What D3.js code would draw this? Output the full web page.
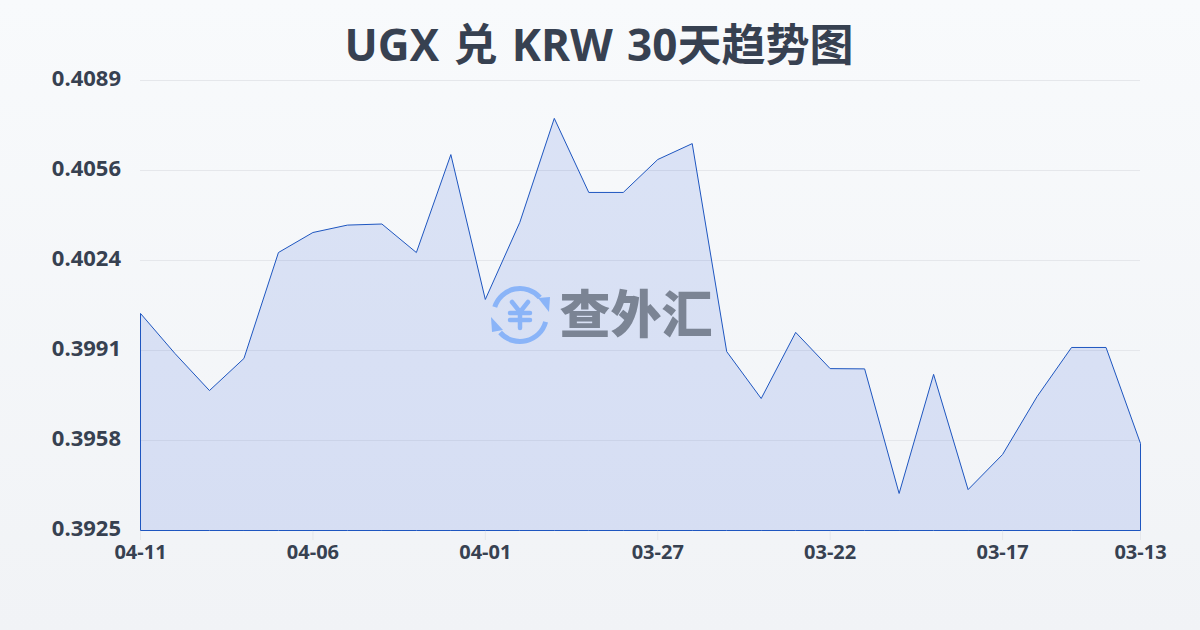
<!DOCTYPE html>
<html>
<head>
<meta charset="utf-8">
<script src="https://cdn.jsdelivr.net/npm/d3@7"></script>
<style>
  html, body { margin: 0; padding: 0; }
  svg { display: block; }
</style>
</head>
<body>
<script>
const dates = ["04-11","04-10","04-09","04-08","04-07","04-06","04-05","04-04","04-03","04-02",
  "04-01","03-31","03-30","03-29","03-28","03-27","03-26","03-25","03-24","03-23",
  "03-22","03-21","03-20","03-19","03-18","03-17","03-16","03-15","03-14","03-13"];
const rates = [0.40041,0.39895,0.39760,0.39877,0.40263,0.40336,0.40363,0.40367,0.40263,0.40620,
  0.40092,0.40373,0.40752,0.40482,0.40482,0.40602,0.40660,0.39902,0.39731,0.39972,
  0.39840,0.39839,0.39385,0.39819,0.39399,0.39527,0.39738,0.39917,0.39917,0.39567];
const xTicks = ["04-11","04-06","04-01","03-27","03-22","03-17","03-13"];
const yTicks = [0.3925,0.39578,0.39906,0.40234,0.40562,0.4089];
const yLabels = ["0.3925","0.3958","0.3991","0.4024","0.4056","0.4089"];

const width = 1200;
const height = 630;
const margin = { top: 80, right: 60, bottom: 100, left: 140 };
const labelFont = "'Open Sans', 'Noto Sans CJK SC', sans-serif";
const cjkFont = "'Noto Sans CJK SC', 'Noto Sans', sans-serif";
const textColor = "#374151";

const svg = d3.select("body").append("svg")
  .attr("width", width)
  .attr("height", height);

const bg = svg.append("defs").append("linearGradient")
  .attr("id", "bg")
  .attr("x1", 0).attr("y1", 0).attr("x2", 0).attr("y2", 1);
bg.append("stop").attr("offset", "0%").attr("stop-color", "#f8fafc");
bg.append("stop").attr("offset", "100%").attr("stop-color", "#f1f3f6");

svg.append("rect")
  .attr("width", width)
  .attr("height", height)
  .attr("fill", "url(#bg)");

svg.append("text")
  .attr("x", width / 2 - 1)
  .attr("y", 61)
  .attr("text-anchor", "middle")
  .attr("font-family", labelFont)
  .attr("font-weight", 700)
  .attr("font-size", 44)
  .attr("word-spacing", 3)
  .attr("fill", textColor)
  .text("UGX 兑 KRW 30天趋势图");

const x = d3.scalePoint()
  .domain(dates)
  .range([margin.left, width - margin.right]);

const y = d3.scaleLinear()
  .domain([0.3925, 0.4089])
  .range([height - margin.bottom, margin.top]);

// grid and left labels
const yAxis = svg.append("g")
  .attr("transform", `translate(${margin.left},0)`)
  .call(d3.axisLeft(y)
    .tickValues(yTicks)
    .tickSize(-(width - margin.left - margin.right))
    .tickPadding(19)
    .tickFormat((d, i) => yLabels[i]));
yAxis.select(".domain").remove();
yAxis.selectAll("line").attr("stroke", "#e5e7eb").attr("stroke-width", 1);
yAxis.selectAll("text")
  .attr("font-family", labelFont)
  .attr("font-weight", 700)
  .attr("font-size", 22)
  .attr("fill", textColor)
  .attr("dy", "0.27em");

const xAxis = svg.append("g")
  .attr("transform", `translate(0,${height - margin.bottom})`)
  .call(d3.axisBottom(x).tickValues(xTicks).tickSize(10).tickPadding(5));
xAxis.select(".domain").remove();
xAxis.selectAll("line").attr("stroke", "#e5e7eb").attr("stroke-width", 1);
xAxis.selectAll("text")
  .attr("font-family", labelFont)
  .attr("font-weight", 700)
  .attr("font-size", 20)
  .attr("fill", textColor);

const area = d3.area()
  .x((d, i) => x(dates[i]))
  .y0(y(0.3925))
  .y1(d => y(d));

svg.append("path")
  .datum(rates)
  .attr("d", area)
  .attr("transform", "translate(0.5,0.5)")
  .attr("fill", "#1d4ed8")
  .attr("fill-opacity", 0.13)
  .attr("stroke", "#1e56c0")
  .attr("stroke-width", 1)
  .attr("stroke-linejoin", "round");

// watermark
const mark = svg.append("g").attr("transform", "translate(520,315)");
const blue = "#8ab4f8";
const ring = d3.arc().innerRadius(24).outerRadius(29);
mark.append("path").attr("d", ring({ startAngle: -1.26, endAngle: 0.85 })).attr("fill", blue);
mark.append("path").attr("d", ring({ startAngle: 1.83, endAngle: 3.99 })).attr("fill", blue);
mark.append("path").attr("d", "M18,-17 L30,-18 L29,-3 Z").attr("fill", blue);
mark.append("path").attr("d", "M-29,2 L-17,15 L-28,17 Z").attr("fill", blue);
mark.append("path")
  .attr("d", "M-8,-13 L0,-3 L8,-13 M-10,-2 H10 M-10,5 H10 M0,-3 V13")
  .attr("fill", "none")
  .attr("stroke", blue)
  .attr("stroke-width", 4.5)
  .attr("stroke-linecap", "round")
  .attr("stroke-linejoin", "round");

svg.append("text")
  .attr("x", 636)
  .attr("y", 333)
  .attr("text-anchor", "middle")
  .attr("font-family", cjkFont)
  .attr("font-weight", 900)
  .attr("font-size", 51)
  .attr("fill", "#7b8494")
  .text("查外汇");
</script>
</body>
</html>
